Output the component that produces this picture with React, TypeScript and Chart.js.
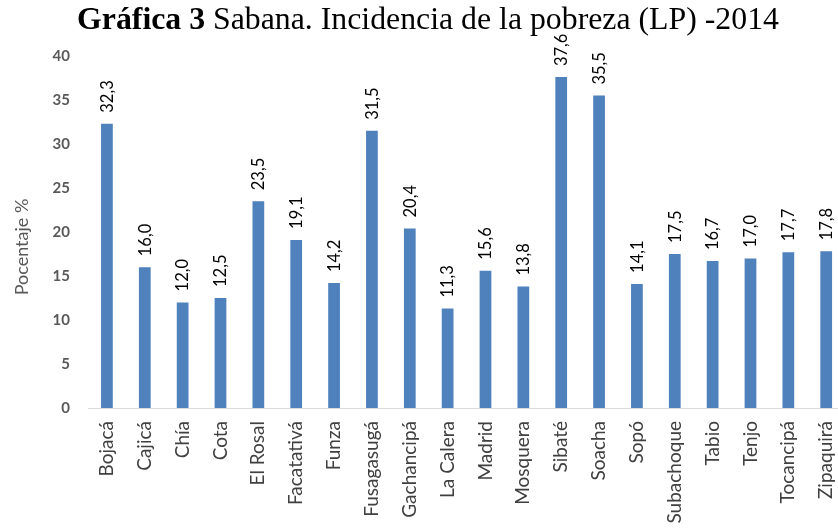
import React, { useEffect, useRef } from "react";
import { Chart, registerables } from "chart.js";

Chart.register(...registerables);

const categories = [
  "Bojacá", "Cajicá", "Chía", "Cota", "El Rosal", "Facatativá", "Funza", "Fusagasugá",
  "Gachancipá", "La Calera", "Madrid", "Mosquera", "Sibaté", "Soacha", "Sopó",
  "Subachoque", "Tabio", "Tenjo", "Tocancipá", "Zipaquirá",
];
const values = [32.3, 16.0, 12.0, 12.5, 23.5, 19.1, 14.2, 31.5, 20.4, 11.3, 15.6, 13.8, 37.6, 35.5, 14.1, 17.5, 16.7, 17.0, 17.7, 17.8];
const yTicks = [0, 5, 10, 15, 20, 25, 30, 35, 40];
const yTitle = "Pocentaje %";

const FONT = "Lato, 'Open Sans', sans-serif";

const valueLabels = {
  id: "valueLabels",
  afterDatasetsDraw(chart: any) {
    const ctx = chart.ctx;
    const meta = chart.getDatasetMeta(0);
    ctx.save();
    ctx.font = `16.5px ${FONT}`;
    ctx.fillStyle = "#000000";
    ctx.textAlign = "left";
    ctx.textBaseline = "middle";
    meta.data.forEach((bar: any, i: number) => {
      const txt = values[i].toFixed(1).replace(".", ",");
      ctx.save();
      ctx.translate(bar.x + 0.5, bar.y - 11);
      ctx.rotate(-Math.PI / 2);
      ctx.fillText(txt, 0, 0);
      ctx.restore();
    });
    // y axis title
    ctx.font = `18px ${FONT}`;
    ctx.fillStyle = "#595959";
    ctx.textAlign = "center";
    ctx.save();
    ctx.translate(22, 247);
    ctx.rotate(-Math.PI / 2);
    ctx.fillText(yTitle, 0, 0);
    ctx.restore();
    ctx.restore();
  },
};

export default function App() {
  const ref = useRef<HTMLCanvasElement>(null);
  useEffect(() => {
    document.body.style.margin = "0";
    const chart = new Chart(ref.current!, {
      type: "bar",
      data: {
        labels: categories,
        datasets: [
          {
            data: values,
            backgroundColor: "#4F81BD",
            borderWidth: 0,
            categoryPercentage: 1,
            barPercentage: 0.31,
          },
        ],
      },
      options: {
        animation: false,
        responsive: false,
        maintainAspectRatio: false,
        layout: { padding: { top: 56, left: 0, right: 0, bottom: 0 } },
        plugins: { legend: { display: false }, tooltip: { enabled: false }, title: { display: false } },
        scales: {
          x: {
            grid: { display: false, drawTicks: false },
            border: { display: true, color: "#D9D9D9", width: 1 },
            ticks: {
              minRotation: 90,
              maxRotation: 90,
              autoSkip: false,
              padding: 13,
              color: "#404040",
              font: { family: FONT, size: 19 },
            },
            afterFit: (s: any) => {
              s.height = 123;
            },
          },
          y: {
            min: 0,
            max: 40,
            afterBuildTicks: (s: any) => {
              s.ticks = yTicks.map((v) => ({ value: v }));
            },
            grid: { display: false, drawTicks: false },
            border: { display: false },
            ticks: {
              padding: 18,
              color: "#595959",
              font: { family: FONT, size: 15, weight: "bold" },
            },
            afterFit: (s: any) => {
              s.width = 88;
            },
          },
        },
      },
      plugins: [valueLabels],
    });
    return () => chart.destroy();
  }, []);

  return (
    <div style={{ position: "relative", width: 838, height: 531, overflow: "hidden" }}>
      <canvas ref={ref} width={862} height={531} style={{ display: "block" }} />
      <div
        style={{
          position: "absolute",
          top: 1,
          left: 9,
          width: 838,
          textAlign: "center",
          fontFamily: "'Liberation Serif', 'Times New Roman', serif",
          fontSize: 31.8,
          lineHeight: "36px",
          color: "#000",
          whiteSpace: "nowrap",
        }}
      >
        <b>Gráfica 3</b> Sabana. Incidencia de la pobreza (LP) -2014
      </div>
    </div>
  );
}
